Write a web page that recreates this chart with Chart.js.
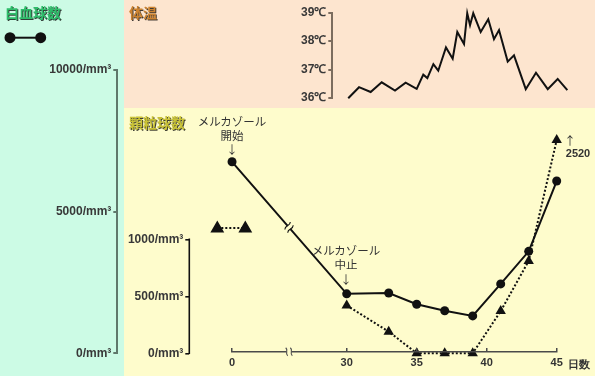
<!DOCTYPE html>
<html>
<head>
<meta charset="utf-8">
<script src="https://cdn.jsdelivr.net/npm/chart.js@4.4.1/dist/chart.umd.min.js"></script>
<style>
  body { margin: 0; width: 595px; height: 376px; position: relative; overflow: hidden; }
  .bg { position: absolute; }
  canvas { position: absolute; left: 0; top: 0; }
  .c { position: absolute; transform: translate(-50%, -50%); white-space: nowrap; line-height: 1; }
  .title { font: bold 14px "Noto Sans CJK JP", sans-serif; text-shadow: 1px 1px 0 rgba(0,0,0,0.75); }
  .note { font: 11.5px "Noto Sans CJK JP", sans-serif; color: #333; }
  .num { font: bold 11px "Liberation Sans", Arial, sans-serif; color: #333; }
</style>
</head>
<body>
<div class="bg" style="left:0;top:0;width:124px;height:376px;background:#ccfbe5"></div>
<div class="bg" style="left:124px;top:0;width:471px;height:108px;background:#fde5cf"></div>
<div class="bg" style="left:124px;top:108px;width:471px;height:268px;background:#fefccc"></div>

<canvas id="tempChart" width="595" height="376"></canvas>
<canvas id="wbcChart" width="595" height="376"></canvas>
<canvas id="granChart" width="595" height="376"></canvas>
<canvas id="dayAxis" width="595" height="376"></canvas>

<div class="c title" style="left:33px;top:12px;color:#2dbd6a">白血球数</div>
<div class="c title" style="left:143px;top:12px;color:#cc8330">体温</div>
<div class="c title" style="left:157px;top:122px;color:#c9c236">顆粒球数</div>

<div class="c note" style="left:232px;top:121px">メルカゾール</div>
<div class="c note" style="left:232px;top:135px">開始</div>
<div class="c note" style="left:232px;top:149px">↓</div>
<div class="c note" style="left:346px;top:250px">メルカゾール</div>
<div class="c note" style="left:346px;top:264px">中止</div>
<div class="c note" style="left:346px;top:279px">↓</div>
<div class="c note" style="left:570px;top:140px">↑</div>
<div class="c num" style="left:578px;top:153px">2520</div>
<div class="c num" style="left:579px;top:364px">日数</div>

<script>
// days on the x axis (0, then 30..45 after the break)
const dayTicks = [0, 30, 35, 40, 45];

// white blood cells (/mm3), solid line with circles
const wbcDays = [0, 30, 33, 35, 37, 39, 41, 43, 45];
const wbcValues = [6760, 2100, 2130, 1730, 1500, 1320, 2450, 3600, 6080];
const wbcTicks = [0, 5000, 10000];

// granulocytes (/mm3), dotted line with triangles
const granDays = [30, 33, 35, 37, 39, 41, 43, 45];
const granValues = [420, 190, 0, 0, 0, 370, 810, 2520];
const granTicks = [0, 500, 1000];

// body temperature (°C), twice a day
const tempDays = [30.11, 30.88, 31.71, 32.5, 33.45, 34.21, 35.0, 35.47, 35.76, 36.19, 36.54, 37.09, 37.57, 37.9, 38.38,
  38.61, 38.81, 39.04, 39.57, 40.11, 40.52, 40.88, 41.5, 41.95, 42.79, 43.52, 44.36, 45.07, 45.76];
const tempValues = [35.99, 36.38, 36.21, 36.55, 36.26, 36.54, 36.32, 36.82, 36.7, 37.19, 36.96, 37.78, 37.38, 38.32, 37.9,
  38.98, 38.56, 38.98, 38.32, 38.77, 38.07, 38.39, 37.28, 37.5, 36.31, 36.89, 36.31, 36.67, 36.28];
const tempTicks = [36, 37, 38, 39];

// layout
const W = 595, H = 376;
const X30 = 346.7, PX_PER_DAY = 14;      // pixel of day 30, pixels per day
const BREAK_START = 21.81;               // axis position of day 0 (days 0-30 squeezed)
const BREAK_POS = 25.88;                 // where the break marks go
const GRAN_CAP = 1870;                   // off-scale values are drawn here, with an arrow
const AXIS_W = 80, AXIS_H = 20;          // room kept for tick labels
const YELLOW = '#fefccc';

function xPos(day) {
  return day < 30 ? BREAK_START + day * (30 - BREAK_START) / 30 : day;
}

Chart.defaults.font.family = '"Liberation Sans", Arial, sans-serif';

const tickFont = { family: '"Liberation Sans", Arial, sans-serif', size: 12, weight: 'bold' };

function yAxis(min, max, ticks, color, width, label, showBorder) {
  return {
    type: 'linear', position: 'left', min: min, max: max,
    afterBuildTicks: s => { s.ticks = ticks.map(v => ({ value: v })); },
    afterFit: s => { s.width = AXIS_W; },
    border: { display: showBorder !== false, color: color, width: width },
    grid: { display: true, drawOnChartArea: false, drawTicks: true, tickLength: 4, color: color, lineWidth: width },
    ticks: { padding: 2, color: '#383838', font: tickFont, callback: label }
  };
}

function makeChart(id, area, yScale, datasets, xExtra, plugins) {
  const x = Object.assign({
    type: 'linear',
    min: 30 + (area.left - X30) / PX_PER_DAY,
    max: 30 + (area.right - X30) / PX_PER_DAY,
    display: false
  }, xExtra || {});
  const padLeft = yScale.display === false ? area.left : area.left - AXIS_W;
  const padBottom = x.display ? H - area.bottom - AXIS_H : H - area.bottom;
  return new Chart(document.getElementById(id), {
    type: 'line',
    data: { datasets: datasets },
    options: {
      responsive: false,
      animation: false,
      events: [],
      layout: { padding: { left: padLeft, top: area.top, right: W - area.right, bottom: padBottom } },
      plugins: { legend: { display: false }, tooltip: { enabled: false } },
      scales: { x: x, y: yScale }
    },
    plugins: plugins || []
  });
}

// break marks on the wbc line + the two little legends
const wbcDecor = {
  id: 'wbcDecor',
  afterDatasetsDraw(chart) {
    const ctx = chart.ctx;
    const pts = chart.getDatasetMeta(0).data;
    const a = pts[0], b = pts[1];
    const x = chart.scales.x.getPixelForValue(BREAK_POS);
    const y = a.y + (x - a.x) / (b.x - a.x) * (b.y - a.y);
    ctx.save();
    ctx.translate(x, y);
    ctx.rotate(Math.atan2(b.y - a.y, b.x - a.x));
    ctx.fillStyle = YELLOW;
    ctx.fillRect(-2.2, -3, 4.4, 6);
    ctx.strokeStyle = '#111';
    ctx.lineWidth = 1.1;
    [-2.2, 2.2].forEach(dx => {
      ctx.beginPath();
      ctx.moveTo(dx - 1, -4.5);
      ctx.bezierCurveTo(dx + 2.5, -1.5, dx - 2.5, 1.5, dx + 1, 4.5);
      ctx.stroke();
    });
    ctx.restore();

    // legend: white blood cells
    ctx.save();
    ctx.strokeStyle = '#111';
    ctx.lineWidth = 2;
    ctx.beginPath(); ctx.moveTo(10, 37.7); ctx.lineTo(40.7, 37.7); ctx.stroke();
    ctx.fillStyle = '#111';
    [10, 40.7].forEach(px => {
      Chart.helpers.drawPoint(ctx, { pointStyle: 'circle', radius: 4.5, rotation: 0, borderWidth: 1 }, px, 37.7);
    });
    // legend: granulocytes
    ctx.setLineDash([2, 2]);
    ctx.beginPath(); ctx.moveTo(217.3, 228); ctx.lineTo(245.3, 228); ctx.stroke();
    ctx.setLineDash([]);
    [217.3, 245.3].forEach(px => {
      Chart.helpers.drawPoint(ctx, { pointStyle: 'triangle', radius: 6, rotation: 0, borderWidth: 1 }, px, 228.5);
    });
    ctx.restore();
  }
};

// granulocyte axis line only covers 0..1000
const granBorder = {
  id: 'granBorder',
  afterDraw(chart) {
    const s = chart.scales.y;
    const ctx = chart.ctx;
    ctx.save();
    ctx.strokeStyle = '#111';
    ctx.lineWidth = 1.6;
    ctx.beginPath();
    ctx.moveTo(s.right, s.getPixelForValue(granTicks[granTicks.length - 1]) - 0.8);
    ctx.lineTo(s.right, s.getPixelForValue(granTicks[0]) + 0.8);
    ctx.stroke();
    ctx.restore();
  }
};

// break on the day axis
const axisBreak = {
  id: 'axisBreak',
  afterDraw(chart) {
    const ctx = chart.ctx;
    const x = chart.scales.x.getPixelForValue(BREAK_POS);
    const y = chart.chartArea.bottom;
    ctx.save();
    ctx.fillStyle = YELLOW;
    ctx.fillRect(x - 2.5, y - 3, 5, 6);
    ctx.strokeStyle = '#4a4a4a';
    ctx.lineWidth = 1.1;
    [-2.3, 2.3].forEach(dx => {
      ctx.beginPath();
      ctx.moveTo(x + dx - 1, y - 4);
      ctx.bezierCurveTo(x + dx + 2.2, y - 1.5, x + dx - 2.2, y + 1.5, x + dx + 1, y + 4);
      ctx.stroke();
    });
    ctx.restore();
  }
};

const lineBase = { borderColor: '#111', backgroundColor: '#111', borderWidth: 2, tension: 0, clip: false };

// temperature
makeChart('tempChart', { left: 332.3, top: 12.7, right: 580, bottom: 98 },
  yAxis(36, 39, tempTicks, '#7c6d5f', 2, v => v + '℃'),
  [Object.assign({}, lineBase, {
    data: tempDays.map((d, i) => ({ x: xPos(d), y: tempValues[i] })),
    pointRadius: 0
  })]);

// white blood cells
makeChart('wbcChart', { left: 117.3, top: 70, right: 580, bottom: 353.3 },
  yAxis(0, 10000, wbcTicks, '#5f786b', 2, v => v + '/mm³'),
  [Object.assign({}, lineBase, {
    data: wbcDays.map((d, i) => ({ x: xPos(d), y: wbcValues[i] })),
    pointStyle: 'circle', pointRadius: 4.5, pointBorderWidth: 0
  })],
  null, [wbcDecor]);

// granulocytes: 0..1000 spans 353.3 -> 239.3, area reaches higher for the capped point
const GRAN_PX = 114 / 1000;
const granTop = 125;
makeChart('granChart', { left: 189.3, top: granTop, right: 580, bottom: 353.3 },
  yAxis(0, (353.3 - granTop) / GRAN_PX, granTicks, '#111', 1.6, v => v + '/mm³', false),
  [Object.assign({}, lineBase, {
    data: granDays.map((d, i) => ({ x: xPos(d), y: Math.min(granValues[i], GRAN_CAP) })),
    borderDash: [2, 2],
    pointStyle: 'triangle', pointRadius: 6, pointBorderWidth: 0
  })],
  null, [granBorder]);

// day axis
makeChart('dayAxis', { left: 232, top: 348, right: 556.7, bottom: 351.7 },
  { type: 'linear', min: 0, max: 1, display: false },
  [],
  {
    display: true, position: 'bottom',
    afterBuildTicks: s => { s.ticks = dayTicks.map(d => ({ value: xPos(d) })); },
    afterFit: s => { s.height = AXIS_H; },
    border: { display: true, color: '#4a4a4a', width: 1.5 },
    grid: { display: true, drawOnChartArea: true, drawTicks: false, color: '#4a4a4a', lineWidth: 1.5 },
    ticks: { padding: 5, autoSkip: false, maxRotation: 0, color: '#333',
      font: { family: '"Liberation Sans", Arial, sans-serif', size: 11, weight: 'bold' },
      callback: (v, i) => dayTicks[i] }
  },
  [axisBreak]);
</script>
</body>
</html>
